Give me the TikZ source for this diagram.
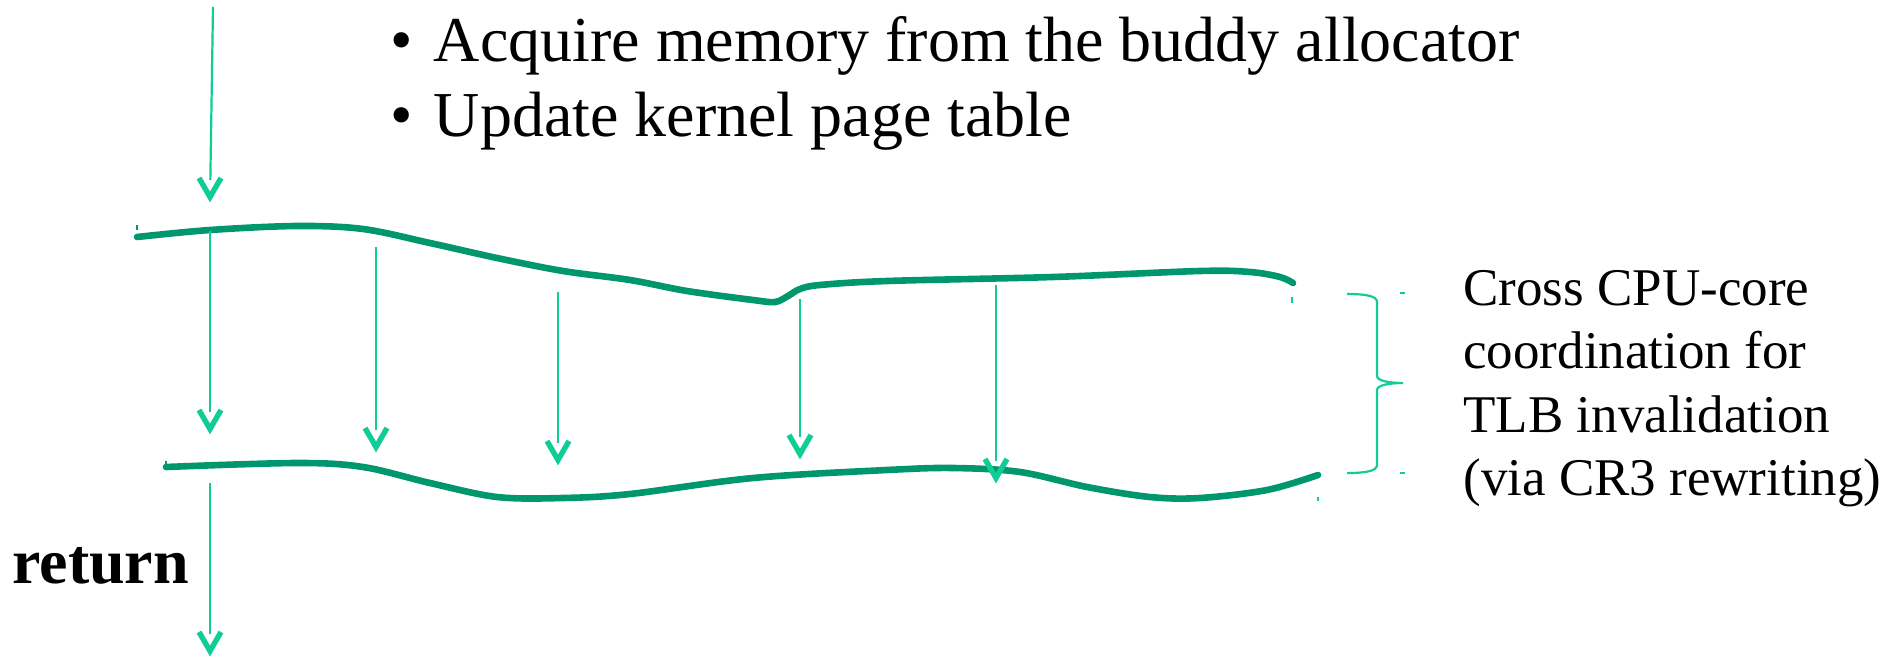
\documentclass[tikz,border=0pt]{standalone}
\usepackage{fontspec}
\setmainfont{Liberation Serif}
\definecolor{arrowc}{RGB}{16,204,150}
\definecolor{curvec}{RGB}{0,150,110}
\tikzset{
  flow/.style={draw=arrowc, line width=1.1pt, shorten >=11pt},
  vhead/.style={draw=arrowc, line width=2.7pt, line cap=butt, line join=miter},
  lane/.style={draw=curvec, line width=3.3pt, line cap=round},
  bracepath/.style={draw=arrowc, line width=1.1pt},
  tickmark/.style={draw=curvec, line width=0.8pt},
  ltick/.style={draw=arrowc, line width=0.8pt},
  bigtext/.style={font=\fontsize{32}{38}\selectfont, inner sep=0pt, anchor=base west},
  sidetext/.style={font=\fontsize{26.5}{32}\selectfont, inner sep=0pt, anchor=base west},
}
\begin{document}
\begin{tikzpicture}[x=0.5pt,y=-0.5pt]
\useasboundingbox (0,0) rectangle (1902,658);

% text
\node[bigtext] (t1) at (390,62) {•\hspace{0.33em}Acquire memory from the buddy allocator};
\node[bigtext] (t2) at (390,137) {•\hspace{0.33em}Update kernel page table};
\node[bigtext, font=\fontsize{32}{38}\selectfont\bfseries] (ret) at (12,583) {return};
\node[sidetext] (n1) at (1463,305) {Cross CPU-core};
\node[sidetext] (n2) at (1463,368) {coordination for};
\node[sidetext] (n3) at (1463,432) {TLB invalidation};
\node[sidetext] (n4) at (1463,495) {(via CR3 rewriting)};

% lanes
\draw[lane] plot[smooth, tension=0.55] coordinates {(137,237) (210,230) (297,226) (363,229) (430,243) (497,258) (563,271) (630,280) (687,291) (753,300) (775,302) (788,296) (800,289) (820,285) (887,281) (1053,277) (1200,271) (1250,272) (1280,277) (1293,283)};
\draw[lane] plot[smooth, tension=0.55] coordinates {(166,467) (297,463) (363,467) (430,483) (497,497) (563,498) (630,494) (753,478) (887,470) (953,468) (1020,472) (1087,487) (1150,497) (1200,498) (1267,490) (1318,475)};

% small ticks
\draw[tickmark] (137,225) -- (137,230);
\draw[tickmark] (166,461) -- (166,468);
\draw[ltick] (1292,297) -- (1292,303);
\draw[ltick] (1318,497) -- (1318,501);
\draw[ltick] (1400,293) -- (1405,293);
\draw[ltick] (1400,473) -- (1405,473);

% arrow endpoints
\coordinate (s0) at (213,7);   \coordinate (e0) at (210,202);
\coordinate (s1) at (210,231); \coordinate (e1) at (210,434);
\coordinate (s2) at (376,247); \coordinate (e2) at (376,452);
\coordinate (s3) at (558,292); \coordinate (e3) at (558,465);
\coordinate (s4) at (800,299); \coordinate (e4) at (800,459);
\coordinate (s5) at (996,285); \coordinate (e5) at (996,483);
\coordinate (s6) at (210,483); \coordinate (e6) at (210,656);

\draw[flow] (s0) -- (e0);
\draw[flow] (s1) -- (e1);
\draw[flow] (s2) -- (e2);
\draw[flow] (s3) -- (e3);
\draw[flow] (s4) -- (e4);
\draw[flow] (s5) -- (e5);
\draw[flow] (s6) -- (e6);

% open V heads
\draw[vhead] (e0) ++(-11,-24) -- ++(11,19) -- ++(11,-19);
\draw[vhead] (e1) ++(-11,-24) -- ++(11,19) -- ++(11,-19);
\draw[vhead] (e2) ++(-11,-24) -- ++(11,19) -- ++(11,-19);
\draw[vhead] (e3) ++(-11,-24) -- ++(11,19) -- ++(11,-19);
\draw[vhead] (e4) ++(-11,-24) -- ++(11,19) -- ++(11,-19);
\draw[vhead] (e5) ++(-11,-24) -- ++(11,19) -- ++(11,-19);
\draw[vhead] (e6) ++(-11,-24) -- ++(11,19) -- ++(11,-19);

% brace
\coordinate (bt) at (1347,294);
\coordinate (bm) at (1403,383);
\coordinate (bb) at (1347,473);
\draw[bracepath] (bt) .. controls (1366,294) and (1377,296) .. (1377,302) -- (1377,376)
  .. controls (1377,381) and (1390,383) .. (bm)
  .. controls (1390,383) and (1377,385) .. (1377,390) -- (1377,465)
  .. controls (1377,471) and (1366,473) .. (bb);
\end{tikzpicture}
\end{document}
